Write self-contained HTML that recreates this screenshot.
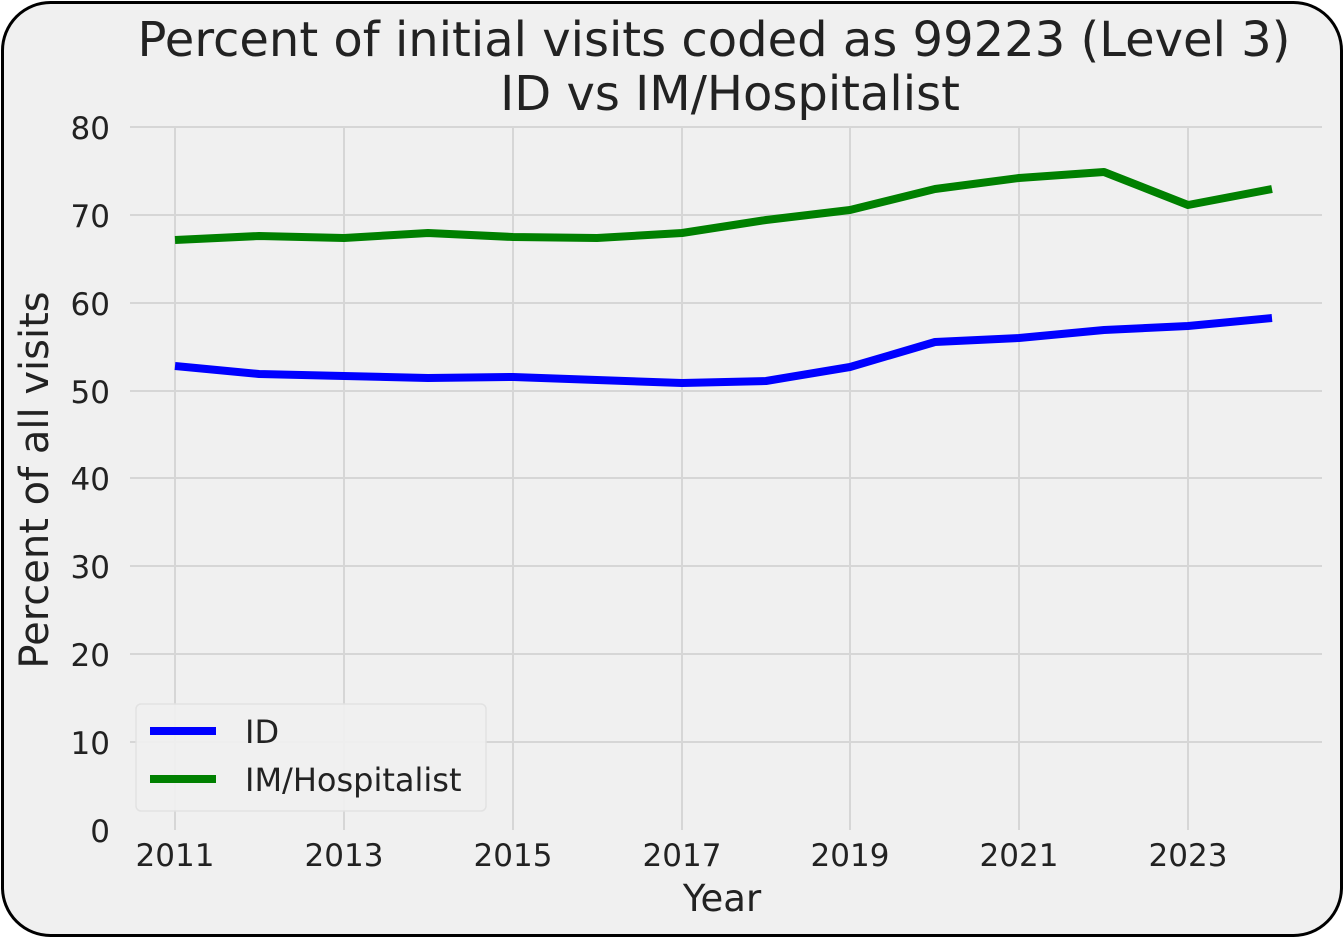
<!DOCTYPE html>
<html><head><style>
body{margin:0;background:#fff;width:1344px;height:938px;overflow:hidden}
</style></head><body>
<svg width="1344" height="938" xmlns="http://www.w3.org/2000/svg" font-family="'DejaVu Sans','Liberation Sans',sans-serif">
<rect x="2.5" y="2.5" width="1339" height="933" rx="48" fill="#f0f0f0" stroke="#000" stroke-width="3"/>
<g stroke="#d6d6d6" stroke-width="2">
<line x1="130" x2="1322" y1="127" y2="127"/><line x1="130" x2="1322" y1="215" y2="215"/>
<line x1="130" x2="1322" y1="303" y2="303"/><line x1="130" x2="1322" y1="391" y2="391"/>
<line x1="130" x2="1322" y1="478" y2="478"/><line x1="130" x2="1322" y1="566" y2="566"/>
<line x1="130" x2="1322" y1="654" y2="654"/><line x1="130" x2="1322" y1="742" y2="742"/>
<line x1="175" x2="175" y1="127" y2="830"/><line x1="344" x2="344" y1="127" y2="830"/>
<line x1="513" x2="513" y1="127" y2="830"/><line x1="682" x2="682" y1="127" y2="830"/>
<line x1="850" x2="850" y1="127" y2="830"/><line x1="1019" x2="1019" y1="127" y2="830"/>
<line x1="1188" x2="1188" y1="127" y2="830"/>
</g>
<g font-size="31" fill="#222" text-anchor="end">
<text x="110" y="139">80</text><text x="110" y="227">70</text><text x="110" y="315">60</text>
<text x="110" y="403">50</text><text x="110" y="490">40</text><text x="110" y="578">30</text>
<text x="110" y="666">20</text><text x="110" y="754">10</text><text x="110" y="842">0</text>
</g>
<g font-size="31" fill="#222" text-anchor="middle">
<text x="175" y="866">2011</text><text x="344" y="866">2013</text><text x="513" y="866">2015</text>
<text x="682" y="866">2017</text><text x="850" y="866">2019</text><text x="1019" y="866">2021</text>
<text x="1188" y="866">2023</text>
<text x="722" y="911" font-size="37">Year</text>
<text x="714" y="56" font-size="48">Percent of initial visits coded as 99223 (Level 3)</text>
<text x="730" y="110" font-size="48">ID vs IM/Hospitalist</text>
</g>
<text transform="translate(48,480) rotate(-90)" font-size="40" fill="#222" text-anchor="middle">Percent of all visits</text>
<polyline fill="none" stroke="#0000ff" stroke-width="8" stroke-linejoin="round" points="175,366 259,374 344,376 428,378 513,377 597,380 682,383 766,381 850,367 935,342 1019,338 1104,330 1188,326 1272,318"/>
<polyline fill="none" stroke="#008000" stroke-width="8" stroke-linejoin="round" points="175,240 259,236 344,238 428,233 513,237 597,238 682,233 766,220 850,210 935,189 1019,178 1104,172 1188,205 1272,189"/>
<rect x="136" y="704" width="350" height="107" rx="5" fill="#f0f0f0" stroke="#e2e2e2" stroke-width="1.5" opacity="0.95"/>
<line x1="150" x2="216" y1="731" y2="731" stroke="#0000ff" stroke-width="8"/>
<line x1="150" x2="216" y1="779" y2="779" stroke="#008000" stroke-width="8"/>
<text x="245" y="743" font-size="32" fill="#222">ID</text>
<text x="245" y="791" font-size="32" fill="#222">IM/Hospitalist</text>
</svg>
</body></html>
